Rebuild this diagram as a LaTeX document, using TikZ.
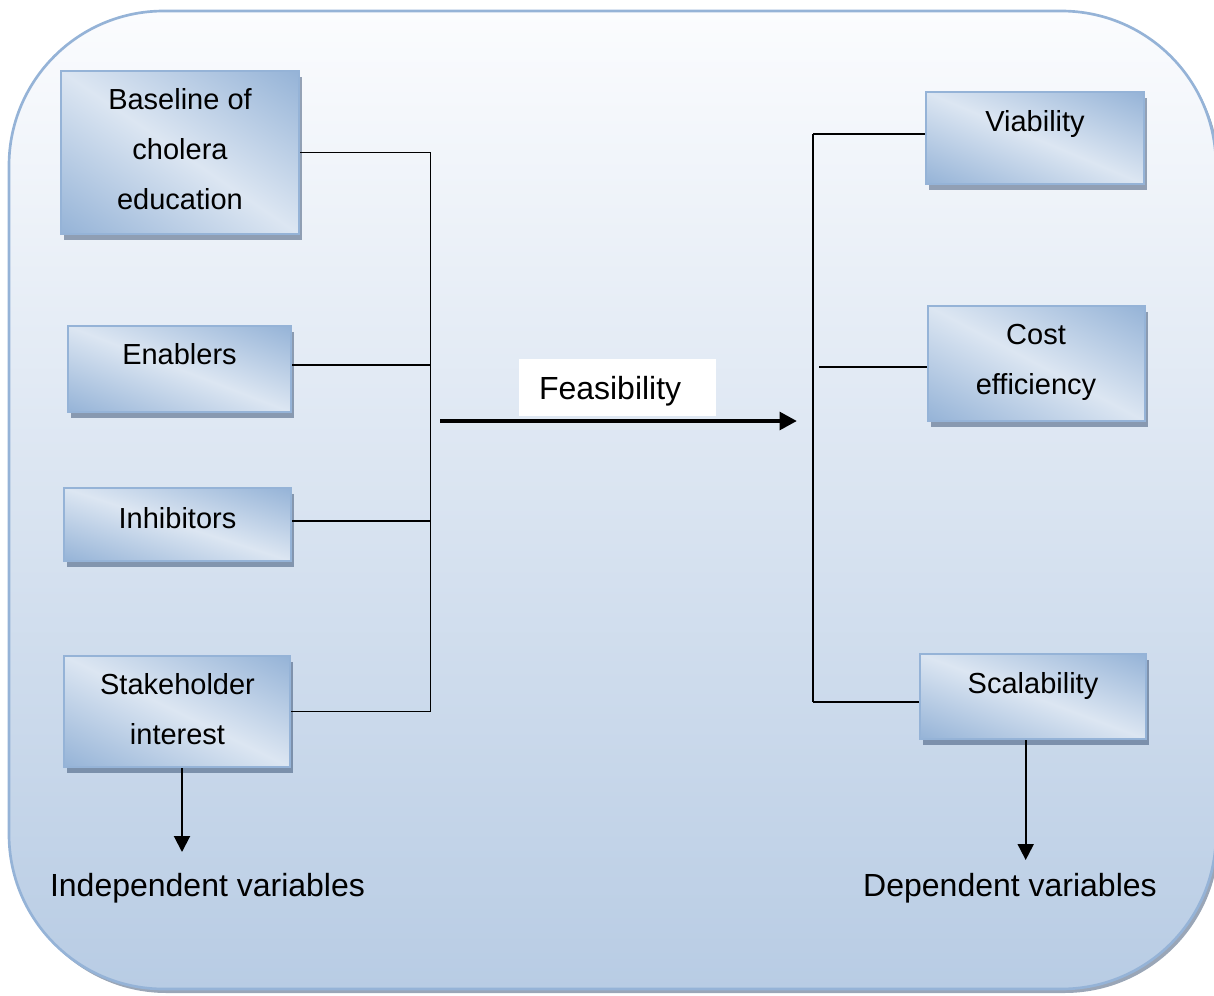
\documentclass[tikz,border=0pt]{standalone}
\usepackage{fontspec}
\setmainfont{Liberation Sans}
\usetikzlibrary{arrows.meta,shadows}
\definecolor{bblue}{HTML}{95B3D7}
\definecolor{blight}{HTML}{DCE6F2}
\definecolor{bgtop}{HTML}{FBFCFE}
\definecolor{bgbot}{HTML}{B8CCE4}
\definecolor{shcol}{HTML}{1F3A60}
% diagonal gradient scaled with the box: light along the top-left/bottom-right diagonal, blue at the other two corners
\pgfdeclarefunctionalshading{boxshade}{\pgfpoint{0bp}{0bp}}{\pgfpoint{100bp}{100bp}}{}{
  add 100 sub 50 div abs
  dup dup
  -0.106 mul 0.949 add
  exch -0.200 mul 0.902 add
  exch
  3 2 roll -0.279 mul 0.863 add
  3 1 roll
}
\tikzset{
  vbox/.style={draw=bblue, line width=1.5pt, shading=boxshade, inner sep=0pt,
    drop shadow={shadow xshift=2.5pt, shadow yshift=-4.5pt, opacity=0.45, fill=shcol}},
  btext/.style={anchor=base, inner sep=0pt, font=\fontsize{21.75}{37.5}\selectfont},
  biglabel/.style={anchor=base, inner sep=0pt, font=\fontsize{24}{28}\selectfont},
  conn/.style={line width=1.2pt, black},
  downarrow/.style={line width=1.5pt, black, -{Triangle[length=12pt,width=12pt]}},
  fatarrow/.style={line width=3.5pt, black, -{Triangle[length=13pt,width=13pt]}},
  flabel/.style={fill=white, inner xsep=15pt, inner ysep=0pt, minimum height=42.75pt,
    text width=117.75pt, align=left, text height=18pt, text depth=0.75pt,
    font=\fontsize{24}{28}\selectfont}
}
\setlength\tabcolsep{0pt}
\begin{document}
\begin{tikzpicture}[x=0.75pt,y=-0.75pt]
\useasboundingbox (0,0) rectangle (1214,996);
% background panel
\fill[shcol, opacity=0.45, rounded corners=116pt] (12,15) rectangle (1219,993);
\shade[top color=bgtop, bottom color=bgbot, rounded corners=116pt] (9,11) rectangle (1216,989);
\draw[bblue, line width=2pt, rounded corners=116pt] (9,11) rectangle (1216,989);

% left boxes
\node[vbox, minimum width=178.5pt, minimum height=122.25pt] (b1) at (180,152.5) {};
\node[vbox, minimum width=167.25pt, minimum height=64.5pt] (b2) at (179.5,369) {};
\node[vbox, minimum width=170.25pt, minimum height=54.75pt] (b3) at (177.5,524.5) {};
\node[vbox, minimum width=169.5pt, minimum height=83.25pt] (b4) at (177,711.5) {};
% right boxes
\node[vbox, minimum width=163.5pt, minimum height=69pt] (r1) at (1035,138) {};
\node[vbox, minimum width=162.75pt, minimum height=86.25pt] (r2) at (1036.5,363.5) {};
\node[vbox, minimum width=169.5pt, minimum height=63.75pt] (r3) at (1033,696.5) {};

% box texts
\node[btext] (t1) at (180,109) {\begin{tabular}[t]{c}Baseline of\\cholera\\education\end{tabular}};
\node[btext] (t2) at (179.5,364) {Enablers};
\node[btext] (t3) at (177.5,528) {Inhibitors};
\node[btext] (t4) at (177.5,694) {\begin{tabular}[t]{c}Stakeholder\\interest\end{tabular}};
\node[btext] (s1) at (1035,131) {Viability};
\node[btext] (s2) at (1036,344) {\begin{tabular}[t]{c}Cost\\efficiency\end{tabular}};
\node[btext] (s3) at (1033,693) {Scalability};

% left connectors
\coordinate (lbus) at (430.5,0);
\draw[conn] (b1.east) -- (b1.east -| lbus);
\draw[conn] ([yshift=3pt]b2.east) -- ([yshift=3pt]b2.east -| lbus);
\draw[conn] ([yshift=2.6pt]b3.east) -- ([yshift=2.6pt]b3.east -| lbus);
\draw[conn] (b4.east) -- (b4.east -| lbus);
\draw[conn] (b1.east -| lbus) -- (b4.east -| lbus);

% right connectors
\coordinate (rbus) at (813,0);
\coordinate (rbusb) at (819,0);
\draw[conn] ([yshift=3pt]r1.west) -- ([yshift=3pt]r1.west -| rbus);
\draw[conn] ([yshift=-2.4pt]r2.west) -- ([yshift=-2.4pt]r2.west -| rbusb);
\draw[conn] ([yshift=-4pt]r3.west) -- ([yshift=-4pt]r3.west -| rbus);
\draw[conn] ([yshift=3pt]r1.west -| rbus) -- ([yshift=-4pt]r3.west -| rbus);

% feasibility
\node[flabel] (feas) at (617.5,387.5) {Feasibility};
\coordinate (fa) at (440,421);
\coordinate (fb) at (797,421);
\draw[fatarrow] (fa) -- (fb);

% variable labels
\coordinate (ia) at (182,852);
\coordinate (da) at (1025.7,860);
\draw[downarrow] (b4.south -| ia) -- (ia);
\draw[downarrow] (r3.south -| da) -- (da);
\node[biglabel] (iv) at (207.5,896) {Independent variables};
\node[biglabel] (dv) at (1010,896) {Dependent variables};
\end{tikzpicture}
\end{document}
